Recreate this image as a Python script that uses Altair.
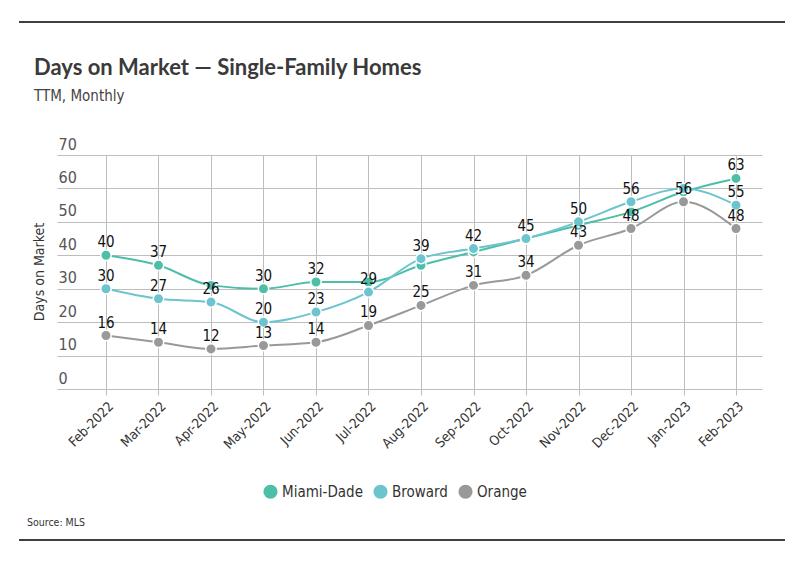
import altair as alt
import pandas as pd

months = ["Feb-2022", "Mar-2022", "Apr-2022", "May-2022", "Jun-2022", "Jul-2022",
          "Aug-2022", "Sep-2022", "Oct-2022", "Nov-2022", "Dec-2022", "Jan-2023", "Feb-2023"]
series = ["Miami-Dade", "Broward", "Orange"]
colors = ["#4dbfa9", "#6cc4cf", "#999999"]

miami = [40, 37, 31, 30, 32, 32, 37, 41, 45, 49, 53, 59, 63]
broward = [30, 27, 26, 20, 23, 29, 39, 42, 45, 50, 56, 60, 55]
orange = [16, 14, 12, 13, 14, 19, 25, 31, 34, 43, 48, 56, 48]

# labels shown in the reference (hidden ones where they collide)
miami_lbl = ["40", "37", "", "30", "32", "", "", "", "", "", "", "", "63"]
broward_lbl = ["30", "27", "26", "20", "23", "29", "39", "42", "45", "50", "56", "", "55"]
orange_lbl = ["16", "14", "12", "13", "14", "19", "25", "31", "34", "43", "48", "56", "48"]

rows = []
for name, vals, lbls in [("Miami-Dade", miami, miami_lbl),
                         ("Broward", broward, broward_lbl),
                         ("Orange", orange, orange_lbl)]:
    for i, (m, v, l) in enumerate(zip(months, vals, lbls)):
        rows.append({"idx": i, "month": m, "value": v, "series": name, "label": l,
                     "order": series.index(name)})
df = pd.DataFrame(rows)

NARROW = "Liberation Sans Narrow, DejaVu Sans Condensed, sans-serif"

W, H = 705, 234

month_expr = "[" + ",".join("'" + m + "'" for m in months) + "][datum.value]"

xenc = alt.X("idx:Q",
             scale=alt.Scale(domain=[-0.933, 12.495], nice=False, zero=False),
             axis=alt.Axis(title=None, values=list(range(len(months))), labelExpr=month_expr,
                           labelAngle=-45, labelFont=NARROW, labelFontSize=13.5,
                           labelColor="#333", grid=True, gridColor="#bdbdbd",
                           tickColor="#bdbdbd", tickSize=6, domain=False, labelPadding=4,
                           labelAlign="right", labelBaseline="top"))
yenc = alt.Y("value:Q", scale=alt.Scale(domain=[0, 70], nice=False),
             axis=alt.Axis(title=None, values=[0, 10, 20, 30, 40, 50, 60, 70],
                           labelAlign="left", labelBaseline="alphabetic", labelPadding=-1,
                           labelOffset=-6, ticks=False, domain=False, grid=True,
                           gridColor="#bdbdbd", labelFont=NARROW, labelFontSize=16,
                           labelColor="#555"))
color = alt.Color("series:N", sort=series,
                  scale=alt.Scale(domain=series, range=colors),
                  legend=alt.Legend(title=None, orient="none", direction="horizontal",
                                    legendX=206, legendY=329, symbolType="circle",
                                    symbolSize=200, symbolStrokeWidth=0,
                                    labelFont=NARROW, labelFontSize=15, labelColor="#333",
                                    columnPadding=10, symbolOpacity=1))

base = alt.Chart(df)

lines = base.mark_line(interpolate="monotone", strokeWidth=2).encode(
    x=xenc, y=yenc, color=color, detail="series:N")
points = base.mark_point(filled=True, size=110, stroke="white", strokeWidth=1.5,
                         opacity=1).encode(x=xenc, y=yenc, color=color, order="order:Q")
labels = base.mark_text(dy=-8, baseline="alphabetic", font=NARROW, fontSize=15,
                        color="#111").encode(x=xenc, y=yenc, text="label:N")

title = alt.Chart(pd.DataFrame({"t": ["Days on Market \u2014 Single-Family Homes"]})).mark_text(
    align="left", baseline="alphabetic", font="Lato", fontWeight="bold", fontSize=22,
    color="#3a3a3a").encode(x=alt.value(-23), y=alt.value(-80), text="t:N")
sub = alt.Chart(pd.DataFrame({"t": ["TTM, Monthly"]})).mark_text(
    align="left", baseline="alphabetic", font=NARROW, fontSize=15, color="#444").encode(
    x=alt.value(-23), y=alt.value(-54), text="t:N")
ytitle = alt.Chart(pd.DataFrame({"t": ["Days on Market"]})).mark_text(
    align="center", baseline="middle", angle=270, font=NARROW, fontSize=14,
    color="#333").encode(x=alt.value(-17), y=alt.value(117), text="t:N")
source = alt.Chart(pd.DataFrame({"t": ["Source: MLS"]})).mark_text(
    align="left", baseline="alphabetic", font=NARROW, fontSize=10.5, color="#333").encode(
    x=alt.value(-30), y=alt.value(371), text="t:N")
top_rule = alt.Chart(pd.DataFrame({"a": [0]})).mark_rule(color="black", strokeWidth=1.5).encode(
    x=alt.value(-38), x2=alt.value(728), y=alt.value(-133))
bot_rule = alt.Chart(pd.DataFrame({"a": [0]})).mark_rule(color="black", strokeWidth=1.5).encode(
    x=alt.value(-38), x2=alt.value(728), y=alt.value(385))

chart = alt.layer(lines, points, labels, title, sub, ytitle, source, top_rule, bot_rule).properties(
    width=W, height=H,
    autosize=alt.AutoSizeParams(type="none"),
    padding={"left": 49, "top": 147, "right": 26, "bottom": 170},
    background="white",
).configure_view(stroke=None)

chart.save("out.html", embed_options={"renderer": "svg", "actions": False})
